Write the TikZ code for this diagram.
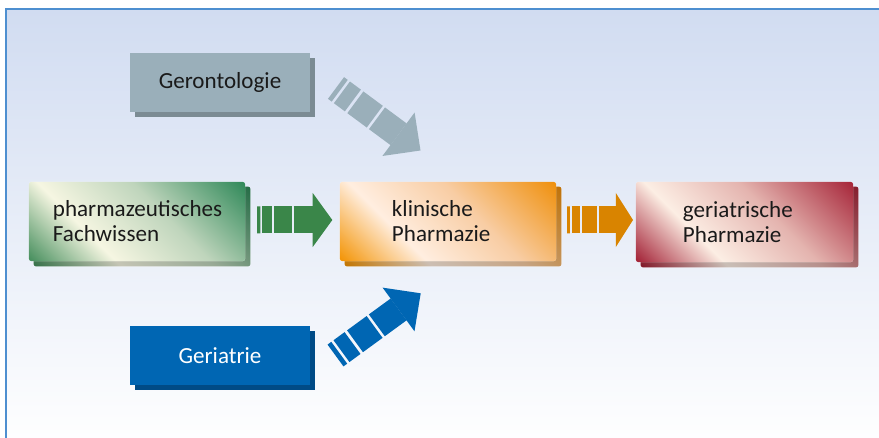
\documentclass[tikz,border=0pt]{standalone}
\usepackage{fontspec}
\setmainfont{Carlito}
\usetikzlibrary{calc}
\definecolor{bgtop}{HTML}{D1DCF1}
\definecolor{bgmid}{HTML}{E2E8F6}
\definecolor{frameblue}{HTML}{4E8FD0}
\definecolor{gero}{HTML}{9AAFBA}
\definecolor{gerodark}{HTML}{7B8B93}
\definecolor{geri}{HTML}{0066B3}
\definecolor{geridark}{HTML}{004B86}
\definecolor{greenarrow}{HTML}{3A8649}
\definecolor{orangearrow}{HTML}{D98400}
\definecolor{textgrey}{HTML}{1A1A1A}
\definecolor{gA}{HTML}{428C5A}
\definecolor{gB}{HTML}{F6F6E2}
\definecolor{gC}{HTML}{BFD5BC}
\definecolor{gD}{HTML}{2E8858}
\definecolor{oA}{HTML}{F39200}
\definecolor{oB}{HTML}{FFEEE0}
\definecolor{oC}{HTML}{F8CDA4}
\definecolor{oD}{HTML}{EF8F0A}
\definecolor{rA}{HTML}{A21F34}
\definecolor{rB}{HTML}{FCEEE4}
\definecolor{rC}{HTML}{E4B4AF}
\definecolor{rD}{HTML}{A62539}
\pgfdeclareverticalshading{greenbox}{100bp}{color(0bp)=(gA); color(28bp)=(gA); color(41bp)=(gB); color(55bp)=(gC); color(72bp)=(gD); color(100bp)=(gD)}
\pgfdeclareverticalshading{orangebox}{100bp}{color(0bp)=(oA); color(28bp)=(oA); color(41bp)=(oB); color(55bp)=(oC); color(72bp)=(oD); color(100bp)=(oD)}
\pgfdeclareverticalshading{redbox}{100bp}{color(0bp)=(rA); color(28bp)=(rA); color(41bp)=(rB); color(55bp)=(rC); color(72bp)=(rD); color(100bp)=(rD)}
\pgfdeclarelayer{back}
\pgfdeclarelayer{shadow}
\pgfsetlayers{back,shadow,main}

\tikzset{
  grad/.style={fill=white, path picture={\shade[shading=#1, shading angle=-45]
      ([shift={(-120,-120)}]path picture bounding box.center) rectangle
      ([shift={(120,120)}]path picture bounding box.center);}},
  box/.style={rectangle, inner ysep=0pt, minimum height=1.975cm, align=left,
      rounded corners=1.5pt, text=textgrey, font=\fontsize{16.4}{17.8}\selectfont},
  solidbox/.style={rectangle, minimum width=4.5cm, minimum height=1.475cm,
      text=textgrey, font=\fontsize{16.4}{17.8}\selectfont}
}

% shadow behind a node: node, shading
\newcommand{\boxshadow}[2]{%
  \path[grad=#2, rounded corners=1.5pt] ([shift={(5,-5)}]#1.south west) rectangle ([shift={(5,-5)}]#1.north east);
  \fill[black, opacity=.2, rounded corners=1.5pt] ([shift={(5,-5)}]#1.south west) rectangle ([shift={(5,-5)}]#1.north east);
}
% striped block arrow: colour, tail, tip
\newcommand{\stripearrow}[3]{%
  \foreach \s/\e in {0/.044,.07/.2,.229/.459,.485/.741}
    \draw[#1, line width=0.675cm] ($(#2)!\s!(#3)$) -- ($(#2)!\e!(#3)$);
  \fill[#1] ($(#2)!.74!(#3)!0.675cm!90:(#3)$) -- (#3) -- ($(#2)!.74!(#3)!0.675cm!-90:(#3)$) -- cycle;
}

\begin{document}
\begin{tikzpicture}[x=0.025cm, y=0.025cm]
\useasboundingbox (0,0) rectangle (879,438);
\begin{pgfonlayer}{back}
\shade[top color=bgtop, middle color=bgmid, bottom color=white] (6,-10) rectangle (890,429);
\draw[frameblue, line width=0.04cm] (6,-10) -- (6,429) -- (890,429);
\end{pgfonlayer}

\node[solidbox, fill=gero] (gero) at (220,355.5) {Gerontologie};
\node[solidbox, fill=geri, text=white] (geri) at (220,82.5) {Geriatrie};
\node[box, grad=greenbox, text width=4.2cm, inner xsep=0.6cm] (pharm) at (137,216.5) {pharmazeutisches\\Fachwissen};
\node[box, grad=orangebox, text width=2.8cm, inner xsep=1.3cm] (klin) at (448,216.5) {klinische\\Pharmazie};
\node[box, grad=redbox, text width=3.075cm, inner xsep=1.175cm, minimum height=2cm] (gph) at (744.5,216) {geriatrische\\Pharmazie};

\begin{pgfonlayer}{shadow}
\fill[gerodark] ([shift={(5,-5)}]gero.south west) rectangle ([shift={(5,-5)}]gero.north east);
\fill[geridark] ([shift={(5,-5)}]geri.south west) rectangle ([shift={(5,-5)}]geri.north east);
\boxshadow{pharm}{greenbox}
\boxshadow{klin}{orangebox}
\boxshadow{gph}{redbox}
\end{pgfonlayer}

\coordinate (goA) at (336,350);
\coordinate (goB) at (420.5,287.5);
\coordinate (geA) at (335.5,82.5);
\coordinate (geB) at (420.7,144.7);
\coordinate (phA) at (257,218);
\coordinate (phB) at (332.3,218);
\coordinate (klA) at (567,218);
\coordinate (klB) at (633,218);

\stripearrow{gero}{goA}{goB}
\stripearrow{geri}{geA}{geB}
\stripearrow{greenarrow}{phA}{phB}
\stripearrow{orangearrow}{klA}{klB}
\end{tikzpicture}
\end{document}
